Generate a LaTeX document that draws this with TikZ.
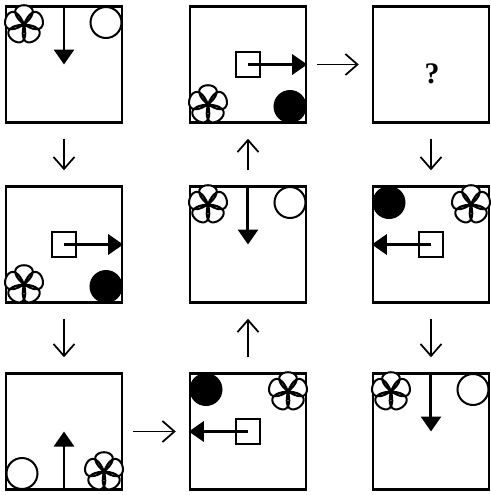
\documentclass[tikz,border=0pt]{standalone}
\usepackage{fontspec}
\setmainfont{Liberation Serif}
\usepackage{tikz}
\usetikzlibrary{arrows.meta,positioning,calc}

\begin{document}
\begin{tikzpicture}[x=0.02cm, y=-0.02cm,
  panel/.style={draw, rectangle, line width=0.05cm, minimum size=2.32cm, inner sep=0pt},
  vflow/.style={-{Straight Barb[length=0.24cm,width=0.42cm]}, line width=0.035cm, shorten <=0.3cm, shorten >=0.3cm},
  hflow/.style={-{Straight Barb[length=0.24cm,width=0.42cm]}, line width=0.035cm, shorten <=0.2cm, shorten >=0.26cm},
  mover/.style={-{Triangle[length=0.3cm,width=0.4cm]}, line width=0.06cm},
  ball/.style={draw, circle, line width=0.04cm, minimum size=0.62cm, inner sep=0pt},
  solidball/.style={ball, fill=black},
  box/.style={draw, rectangle, line width=0.04cm, minimum size=0.5cm, inner sep=0pt},
  flower/.pic={
    \draw[line width=0.04cm, fill=white, line join=round]
      (0,0) .. controls (-140:40) and (-40:40) .. (0,0)
      .. controls (-68:40) and (32:40) .. (0,0)
      .. controls (4:40) and (104:40) .. (0,0)
      .. controls (76:40) and (176:40) .. (0,0)
      .. controls (148:40) and (248:40) .. (0,0);
  }]
  \useasboundingbox (0,0) rectangle (491,495);

  \node[panel] (p1) at (64,64.5) {};
  \pic (f1) at (24,24.5) {flower};
  \node[ball] (c1) at (106,22.5) {};
  \draw[mover] (p1.north) -- (p1.center);

  \node[panel] (p2) at (248,64.5) {};
  \node[box] (s2) at (248,64.5) {};
  \draw[mover] (s2.center) -- (p2.east);
  \pic (f2) at (208,104.5) {flower};
  \node[solidball] (c2) at (290,106.5) {};

  \node[panel] (p3) at (431,64.5) {};
  \node[font=\bfseries\fontsize{17}{17}\selectfont] (q3) at (432,74) {?};

  \node[panel] (p4) at (64,244.5) {};
  \node[box] (s4) at (64,244.5) {};
  \draw[mover] (s4.center) -- (p4.east);
  \pic (f4) at (24,284.5) {flower};
  \node[solidball] (c4) at (106,286.5) {};

  \node[panel] (p5) at (248,244.5) {};
  \pic (f5) at (208,204.5) {flower};
  \node[ball] (c5) at (290,202.5) {};
  \draw[mover] (p5.north) -- (p5.center);

  \node[panel] (p6) at (431,244.5) {};
  \node[solidball] (c6) at (389,202.5) {};
  \pic (f6) at (471,204.5) {flower};
  \node[box] (s6) at (431,244.5) {};
  \draw[mover] (s6.center) -- (p6.west);

  \node[panel] (p7) at (64,431.5) {};
  \node[ball] (c7) at (22,473.5) {};
  \pic (f7) at (104,471.5) {flower};
  \draw[mover] (p7.south) -- (p7.center);

  \node[panel] (p8) at (248,431.5) {};
  \node[solidball] (c8) at (206,389.5) {};
  \pic (f8) at (288,391.5) {flower};
  \node[box] (s8) at (248,431.5) {};
  \draw[mover] (s8.center) -- (p8.west);

  \node[panel] (p9) at (431,431.5) {};
  \pic (f9) at (391,391.5) {flower};
  \node[ball] (c9) at (473,389.5) {};
  \draw[mover] (p9.north) -- (p9.center);

  \draw[vflow] (p1) -- (p4);
  \draw[vflow] (p4) -- (p7);
  \draw[hflow] (p7) -- (p8);
  \draw[vflow] (p8) -- (p5);
  \draw[vflow] (p5) -- (p2);
  \draw[hflow] (p2) -- (p3);
  \draw[vflow] (p3) -- (p6);
  \draw[vflow] (p6) -- (p9);
\end{tikzpicture}
\end{document}
